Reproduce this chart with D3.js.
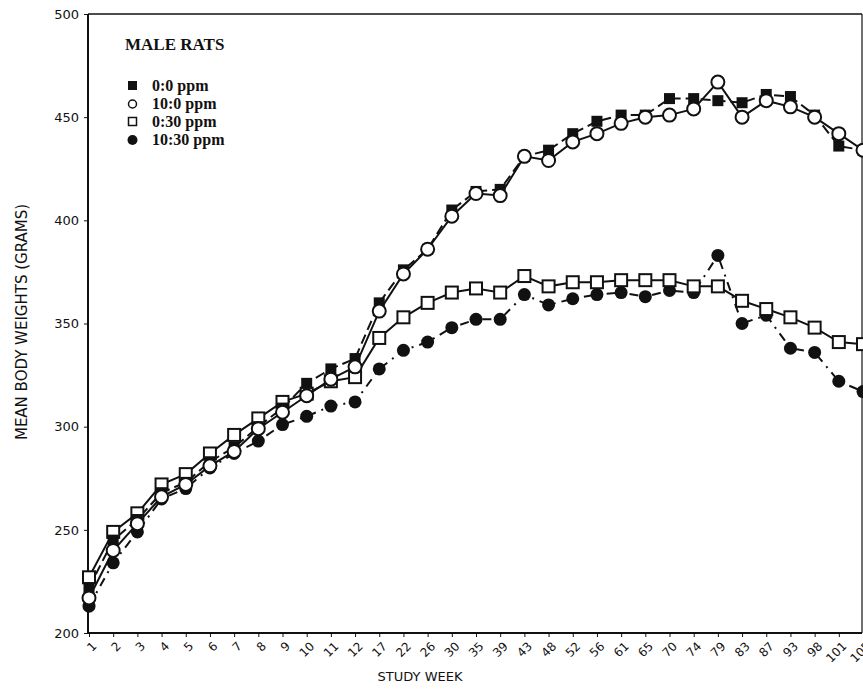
<!DOCTYPE html>
<html>
<head>
<meta charset="utf-8">
<script src="https://cdn.jsdelivr.net/npm/d3@7"></script>
<style>
  body { margin: 0; background: #fff; }
  svg { display: block; }
</style>
</head>
<body>
<svg id="chart" width="863" height="692"></svg>
<script>
// study weeks (categorical x axis)
var weeks = [1,2,3,4,5,6,7,8,9,10,11,12,17,22,26,30,35,39,43,48,52,56,61,65,70,74,79,83,87,93,98,101,105];

// mean body weights, grams
var ppm0_0   = [222,245,255,268,273,283,290,300,309,321,328,333,360,376,386,405,414,415,431,434,442,448,451,451,459,459,458,457,461,460,451,436,434];
var ppm10_0  = [217,240,253,266,272,281,288,299,307,315,323,329,356,374,386,402,413,412,431,429,438,442,447,450,451,454,467,450,458,455,450,442,434];
var ppm0_30  = [227,249,258,272,277,287,296,304,312,316,322,324,343,353,360,365,367,365,373,368,370,370,371,371,371,368,368,361,357,353,348,341,340];
var ppm10_30 = [213,234,249,265,270,280,287,293,301,305,310,312,328,337,341,348,352,352,364,359,362,364,365,363,366,365,383,350,354,338,336,322,317];

var yTicks = [200,250,300,350,400,450,500];
var seriesNames = ["0:0 ppm","10:0 ppm","0:30 ppm","10:30 ppm"];

var svg = d3.select("#chart");
var pLeft = 88, pRight = 862, pTop = 14, pBottom = 633;

var x = d3.scalePoint().domain(weeks).range([pLeft + 1, 863]);
var y = d3.scaleLinear().domain([200, 500]).range([pBottom, pTop]);

// frame
svg.append("line").attr("x1", pLeft).attr("x2", pRight).attr("y1", pTop).attr("y2", pTop)
  .attr("stroke", "#111").attr("stroke-width", 1.5);
svg.append("line").attr("x1", pRight).attr("x2", pRight).attr("y1", pTop).attr("y2", pBottom)
  .attr("stroke", "#111").attr("stroke-width", 1.2);

// y axis
var yAxis = d3.axisLeft(y).tickValues(yTicks).tickSize(4).tickPadding(5);
var gy = svg.append("g").attr("transform", "translate(" + pLeft + ",0)").call(yAxis);
gy.select(".domain").attr("stroke", "#111").attr("stroke-width", 2).attr("d", "M0," + pTop + "V" + pBottom);
gy.selectAll("line").attr("stroke", "#111");
gy.selectAll("text").attr("font-family", "DejaVu Sans, sans-serif").attr("font-size", 13).attr("fill", "#111");

// x axis
var xAxis = d3.axisBottom(x).tickSize(4).tickPadding(2);
var gx = svg.append("g").attr("transform", "translate(0," + pBottom + ")").call(xAxis);
gx.select(".domain").attr("stroke", "#111").attr("stroke-width", 2).attr("d", "M" + pLeft + ",0H" + pRight);
gx.selectAll("line").attr("stroke", "#111");
gx.selectAll("text")
  .attr("font-family", "DejaVu Sans, sans-serif").attr("font-size", 12).attr("fill", "#111")
  .attr("text-anchor", "end")
  .attr("x", 0).attr("y", 0).attr("dy", "0.35em")
  .attr("transform", "translate(5,11) rotate(-45)");

// axis titles
svg.append("text").attr("transform", "translate(27,322) rotate(-90)")
  .attr("text-anchor", "middle").attr("font-family", "DejaVu Sans, sans-serif")
  .attr("font-size", 15).attr("fill", "#111").text("MEAN BODY WEIGHTS (GRAMS)");
svg.append("text").attr("x", 420).attr("y", 681)
  .attr("text-anchor", "middle").attr("font-family", "DejaVu Sans, sans-serif")
  .attr("font-size", 13).attr("fill", "#111").text("STUDY WEEK");

// lines
function lineFor(vals) {
  return d3.line().x(function(d, i){ return x(weeks[i]); }).y(function(d){ return y(d); })(vals);
}
svg.append("path").attr("d", lineFor(ppm10_30)).attr("fill", "none").attr("stroke", "#111")
  .attr("stroke-width", 2).attr("stroke-dasharray", "9,6,2,6");
svg.append("path").attr("d", lineFor(ppm0_30)).attr("fill", "none").attr("stroke", "#111").attr("stroke-width", 2);
svg.append("path").attr("d", lineFor(ppm0_0)).attr("fill", "none").attr("stroke", "#111")
  .attr("stroke-width", 2).attr("stroke-dasharray", "10,5");
svg.append("path").attr("d", lineFor(ppm10_0)).attr("fill", "none").attr("stroke", "#111").attr("stroke-width", 2);

// markers
function filledCircles(vals) {
  svg.append("g").selectAll("circle").data(vals).enter().append("circle")
    .attr("cx", function(d, i){ return x(weeks[i]); }).attr("cy", function(d){ return y(d); })
    .attr("r", 6.5).attr("fill", "#111");
}
function openCircles(vals) {
  svg.append("g").selectAll("circle").data(vals).enter().append("circle")
    .attr("cx", function(d, i){ return x(weeks[i]); }).attr("cy", function(d){ return y(d); })
    .attr("r", 6.5).attr("fill", "#fff").attr("stroke", "#111").attr("stroke-width", 2);
}
function squares(vals, filled) {
  var s = filled ? 11 : 12;
  svg.append("g").selectAll("rect").data(vals).enter().append("rect")
    .attr("x", function(d, i){ return x(weeks[i]) - s / 2; }).attr("y", function(d){ return y(d) - s / 2; })
    .attr("width", s).attr("height", s)
    .attr("fill", filled ? "#111" : "#fff").attr("stroke", "#111").attr("stroke-width", filled ? 0 : 2);
}
filledCircles(ppm10_30);
squares(ppm0_30, false);
squares(ppm0_0, true);
openCircles(ppm10_0);

// legend
var lg = svg.append("g");
lg.append("text").attr("x", 125).attr("y", 50).attr("font-family", "Liberation Serif, serif")
  .attr("font-weight", "bold").attr("font-size", 17).attr("fill", "#111").text("MALE RATS");
var ly = [86, 104, 122, 140];
lg.append("rect").attr("x", 128).attr("y", ly[0] - 5).attr("width", 9).attr("height", 9).attr("fill", "#111");
lg.append("circle").attr("cx", 132.5).attr("cy", ly[1]).attr("r", 4).attr("fill", "#fff").attr("stroke", "#111").attr("stroke-width", 1.5);
lg.append("rect").attr("x", 128.5).attr("y", ly[2] - 4.5).attr("width", 8).attr("height", 8).attr("fill", "#fff").attr("stroke", "#111").attr("stroke-width", 1.5);
lg.append("circle").attr("cx", 132.5).attr("cy", ly[3]).attr("r", 5).attr("fill", "#111");
lg.selectAll("text.item").data(seriesNames).enter().append("text").attr("class", "item")
  .attr("x", 152).attr("y", function(d, i){ return ly[i] + 5; })
  .attr("font-family", "Liberation Serif, serif").attr("font-weight", "bold").attr("font-size", 16)
  .attr("fill", "#111").text(function(d){ return d; });
</script>
</body>
</html>
